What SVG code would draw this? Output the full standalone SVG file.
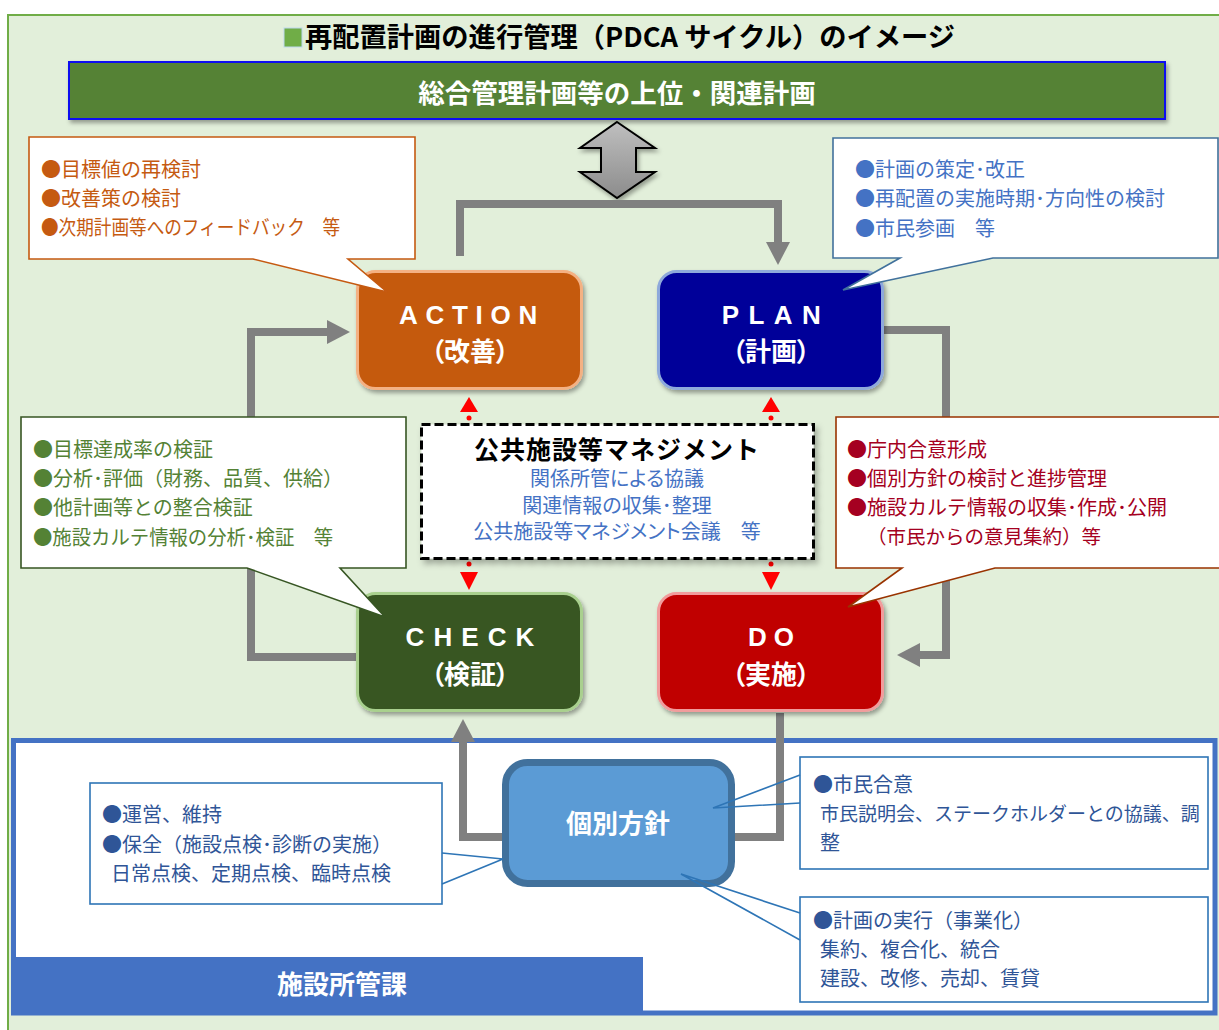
<svg xmlns="http://www.w3.org/2000/svg" width="1219" height="1030" viewBox="0 0 1219 1030">
<style>
.jp{font-family:"Noto Sans CJK JP","Noto Sans",sans-serif}
.b{font-weight:bold}
.palt{font-feature-settings:"palt"}
.lat{font-family:"Liberation Sans","DejaVu Sans",sans-serif;font-weight:bold;fill:#fff;font-size:26px}
.sub{font-family:"Noto Sans CJK JP",sans-serif;font-weight:bold;fill:#fff;font-size:26px;font-feature-settings:"palt"}
.ct{font-family:"Noto Sans CJK JP",sans-serif;font-size:20px}
.conn{fill:none;stroke:#808080;stroke-width:8;stroke-linejoin:miter}
.red{fill:#FF0000}
.bt{fill:none;stroke:#2E75B6;stroke-width:1.6}
</style>
<defs>
<filter id="sh" x="-10%" y="-10%" width="130%" height="140%"><feDropShadow dx="2" dy="3" stdDeviation="2" flood-color="#000" flood-opacity="0.35"/></filter>
<filter id="sh2" x="-10%" y="-10%" width="130%" height="140%"><feDropShadow dx="3" dy="4" stdDeviation="3" flood-color="#000" flood-opacity="0.3"/></filter>
<linearGradient id="ag" x1="0" y1="0" x2="0" y2="1"><stop offset="0" stop-color="#BFBFBF"/><stop offset="1" stop-color="#8C8C8C"/></linearGradient>
<marker id="ga" markerUnits="userSpaceOnUse" markerWidth="23" markerHeight="24" viewBox="0 0 23 24" refX="0" refY="12" orient="auto"><path d="M0,0 L23,12 L0,24 Z" fill="#808080"/></marker>
</defs>

<rect x="0" y="0" width="1219" height="1030" fill="#fff"/>
<rect x="8" y="15" width="1240" height="1040" fill="#E2EFDA" stroke="#70AD47" stroke-width="2"/>

<g id="title">
<rect x="284" y="28" width="18" height="19" fill="#70AD47" stroke="#BDD7EE" stroke-width="1"/>
<text x="305" y="47" class="jp b" font-size="27" fill="#000" textLength="650" lengthAdjust="spacingAndGlyphs">再配置計画の進行管理（PDCA サイクル）のイメージ</text>
</g>

<g id="upper-plan">
<rect x="69" y="62" width="1096" height="57" fill="#548235" stroke="#1010F0" stroke-width="2" filter="url(#sh)"/>
<text x="617" y="103" text-anchor="middle" class="jp b" font-size="26.5" fill="#fff">総合管理計画等の上位・関連計画</text>
</g>

<g id="double-arrow">
<path d="M617,122 L655,148 L636,148 L636,172 L655,172 L617,198 L580,172 L601,172 L601,148 L580,148 Z" fill="url(#ag)" stroke="#000" stroke-width="2" filter="url(#sh)"/>
</g>

<g id="section">
<rect x="13.5" y="740.5" width="1201.5" height="272.5" fill="#fff" stroke="#4472C4" stroke-width="5"/>
<rect x="11" y="957" width="632" height="58" fill="#4472C4"/>
<text x="342" y="994" text-anchor="middle" class="jp b" font-size="26" fill="#fff">施設所管課</text>
</g>

<g id="connectors">
<path class="conn" d="M460,256 V204 H778 V242" marker-end="url(#ga)"/>
<path class="conn" d="M884,330 H946 V655 H920" marker-end="url(#ga)"/>
<path class="conn" d="M780,713 V837 H735"/>
<path class="conn" d="M503,837 H463 V742" marker-end="url(#ga)"/>
<path class="conn" d="M356,657 H251 V332 H327" marker-end="url(#ga)"/>
<g id="red-links">
<circle cx="469" cy="418" r="2.5" class="red"/><path class="red" d="M460,412 H478 L469,397 Z"/>
<circle cx="771" cy="418" r="2.5" class="red"/><path class="red" d="M762,412 H780 L771,397 Z"/>
<circle cx="469" cy="564" r="2.5" class="red"/><path class="red" d="M460,572 H478 L469,590 Z"/>
<circle cx="771" cy="564" r="2.5" class="red"/><path class="red" d="M762,572 H780 L771,590 Z"/>
</g>
</g>

<g id="action">
<rect x="357.5" y="271.5" width="224" height="117" rx="18" fill="#C55A11" stroke="#F4B183" stroke-width="3" filter="url(#sh)"/>
<text x="472" y="324" text-anchor="middle" class="lat" letter-spacing="7.7">ACTION</text>
<text x="470" y="361" text-anchor="middle" class="sub">（改善）</text>
</g>
<g id="plan">
<rect x="658.5" y="271.5" width="224" height="117" rx="18" fill="#000099" stroke="#8EA9DB" stroke-width="3" filter="url(#sh)"/>
<text x="776" y="324" text-anchor="middle" class="lat" letter-spacing="9.4">PLAN</text>
<text x="771" y="361" text-anchor="middle" class="sub">（計画）</text>
</g>
<g id="check">
<rect x="357.5" y="593.5" width="224" height="117" rx="18" fill="#375623" stroke="#A9D08E" stroke-width="3" filter="url(#sh)"/>
<text x="474.5" y="646" text-anchor="middle" class="lat" letter-spacing="9.1">CHECK</text>
<text x="470" y="684" text-anchor="middle" class="sub">（検証）</text>
</g>
<g id="do">
<rect x="658.5" y="593.5" width="224" height="117" rx="18" fill="#C00000" stroke="#F19C9C" stroke-width="3" filter="url(#sh)"/>
<text x="774.5" y="646" text-anchor="middle" class="lat" letter-spacing="7">DO</text>
<text x="771" y="684" text-anchor="middle" class="sub">（実施）</text>
</g>

<g id="management">
<rect x="421.5" y="424.5" width="392" height="134" fill="#fff" stroke="#000" stroke-width="3" stroke-dasharray="9 4" filter="url(#sh2)"/>
<text text-anchor="middle" class="jp" fill="#4472C4"><tspan x="617" y="459" class="b" font-size="25" letter-spacing="1" fill="#000">公共施設等マネジメント</tspan><tspan x="617" y="486" class="palt" font-size="20">関係所管による協議</tspan><tspan x="617" y="513" class="palt" font-size="20">関連情報の収集･整理</tspan><tspan x="617" y="539" class="palt" font-size="20">公共施設等マネジメント会議　等</tspan></text>
</g>

<g id="callout-action">
<path d="M29,137 H415 V259 H348 L387,292 L253,259 H29 Z" fill="#fff" stroke="#C55A11" stroke-width="1.6"/>
<g class="ct" fill="#C55A11">
<text x="41" y="177">●目標値の再検討</text>
<text x="41" y="206">●改善策の検討</text>
<text x="41" y="235" textLength="299" lengthAdjust="spacingAndGlyphs">●次期計画等へのフィードバック　等</text>
</g>
</g>
<g id="callout-plan">
<path d="M833,138 H1218 V258 H993 L843,290 L900,258 H833 Z" fill="#fff" stroke="#41719C" stroke-width="1.6"/>
<g class="ct" fill="#4472C4">
<text x="855" y="177">●計画の策定･改正</text>
<text x="855" y="206">●再配置の実施時期･方向性の検討</text>
<text x="855" y="236">●市民参画　等</text>
</g>
</g>
<g id="callout-check">
<path d="M21,417 H406 V568 H340 L385,617 L247,568 H21 Z" fill="#fff" stroke="#375623" stroke-width="1.6"/>
<g class="ct" fill="#548235">
<text x="33" y="457">●目標達成率の検証</text>
<text x="33" y="486">●分析･評価（財務、品質、供給）</text>
<text x="33" y="515">●他計画等との整合検証</text>
<text x="33" y="545" textLength="300" lengthAdjust="spacingAndGlyphs">●施設カルテ情報の分析･検証　等</text>
</g>
</g>
<g id="callout-do">
<path d="M836,417 H1226 V568 H995 L848,607 L902,568 H836 Z" fill="#fff" stroke="#993300" stroke-width="1.6"/>
<g class="ct" fill="#A50021">
<text x="847" y="457">●庁内合意形成</text>
<text x="847" y="486">●個別方針の検討と進捗管理</text>
<text x="847" y="515">●施設カルテ情報の収集･作成･公開</text>
<text x="867" y="544" font-size="19.5">（市民からの意見集約）等</text>
</g>
</g>

<g id="policy">
<rect x="505.5" y="762.5" width="226" height="121" rx="22" fill="#5B9BD5" stroke="#41719C" stroke-width="7"/>
<text x="618" y="833" text-anchor="middle" class="jp b" font-size="26" fill="#fff">個別方針</text>
</g>

<g id="callout-maintain">
<rect x="90" y="783" width="352" height="121" fill="#fff" stroke="#2E75B6" stroke-width="1.6"/>
<path class="bt" d="M442,853 L503,859 L442,884"/>
<g class="ct" fill="#2F5597">
<text x="102" y="822">●運営、維持</text>
<text x="102" y="852">●保全（施設点検･診断の実施）</text>
<text x="111" y="881">日常点検、定期点検、臨時点検</text>
</g>
</g>
<g id="callout-consensus">
<rect x="800" y="757" width="408" height="112" fill="#fff" stroke="#2E75B6" stroke-width="1.6"/>
<path class="bt" d="M800,775 L713,808 L800,803"/>
<g class="ct" fill="#2F5597">
<text x="813" y="792">●市民合意</text>
<text x="820" y="821" font-size="19">市民説明会、ステークホルダーとの協議、調</text>
<text x="820" y="850">整</text>
</g>
</g>
<g id="callout-execute">
<rect x="800" y="897" width="408" height="105" fill="#fff" stroke="#2E75B6" stroke-width="1.6"/>
<path class="bt" d="M800,913 L681,874 L800,940"/>
<g class="ct" fill="#2F5597">
<text x="813" y="928">●計画の実行（事業化）</text>
<text x="820" y="957">集約、複合化、統合</text>
<text x="820" y="986">建設、改修、売却、賃貸</text>
</g>
</g>
</svg>
